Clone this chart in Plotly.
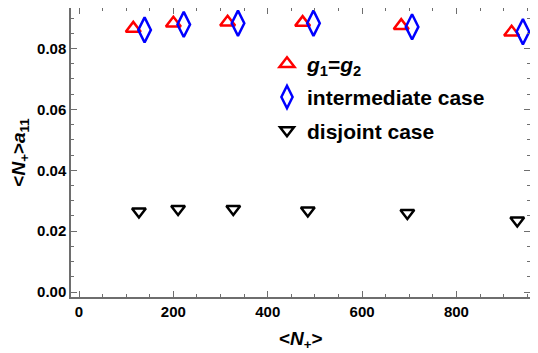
import plotly.graph_objects as go

# Data
x_equal = [115, 200, 315, 474, 683, 917]
y_equal = [0.0866, 0.0883, 0.0886, 0.0885, 0.0875, 0.0853]

x_inter = [139, 222, 337, 497, 706, 941]
y_inter = [0.0861, 0.0879, 0.0883, 0.0883, 0.0871, 0.0855]

x_disj = [127, 210, 327, 485, 696, 929]
y_disj = [0.0265, 0.0273, 0.0273, 0.0268, 0.0260, 0.0235]

x_ticks = [0, 200, 400, 600, 800]
y_ticks = [0.00, 0.02, 0.04, 0.06, 0.08]
y_tick_labels = ["0.00", "0.02", "0.04", "0.06", "0.08"]

FONT = "Liberation Sans"

fig = go.Figure()
fig.add_trace(go.Scatter(
    x=x_equal, y=y_equal, mode="markers", name="<b><i>g</i><sub>1</sub>=<i>g</i><sub>2</sub></b>",
    marker=dict(symbol="triangle-up-open", size=13, color="#ff0000", line=dict(width=2.5, color="#ff0000")),
    legendgroup="a"))
fig.add_trace(go.Scatter(
    x=x_inter, y=y_inter, mode="markers", name="<b>intermediate case</b>",
    marker=dict(symbol="diamond-tall-open", size=18, color="#0000ff", line=dict(width=2.5, color="#0000ff")),
    legendgroup="b"))
fig.add_trace(go.Scatter(
    x=x_disj, y=y_disj, mode="markers", name="<b>disjoint case</b>",
    marker=dict(symbol="triangle-down-open", size=12, color="#000000", line=dict(width=2.5, color="#000000")),
    legendgroup="c"))

axis_common = dict(
    showline=True, linecolor="#6e6e6e", linewidth=1.5, mirror="ticks",
    ticks="inside", ticklen=6, tickwidth=1, tickcolor="#6e6e6e",
    showgrid=False, zeroline=False, automargin=False,
    tickfont=dict(family=FONT, size=15, color="black", weight="bold"),
)

fig.update_xaxes(
    range=[-17, 956], tickvals=x_ticks,
    minor=dict(ticks="inside", ticklen=3, dtick=50, tickcolor="#6e6e6e", showgrid=False),
    **axis_common)
fig.update_yaxes(
    range=[-0.0016, 0.0933], tickvals=y_ticks, ticktext=y_tick_labels,
    minor=dict(ticks="inside", ticklen=3, dtick=0.005, tickcolor="#6e6e6e", showgrid=False),
    title=dict(text="<b>&lt;<i>N</i><sub>+</sub>&gt;<i>a</i><sub>11</sub></b>", font=dict(family=FONT, size=19, color="black"), standoff=8),
    **axis_common)

# x-axis title placed in paper coordinates below the tick labels
fig.add_annotation(
    text="<b>&lt;<i>N</i><sub>+</sub>&gt;</b>", xref="paper", yref="paper",
    x=0.5, y=-0.149, xanchor="center", yanchor="middle", showarrow=False,
    font=dict(family=FONT, size=19, color="black"))

# the page adds an 8px body margin and clips at the body width; size the figure to fit
fig.update_layout(
    width=522, height=345,
    margin=dict(l=63, r=0, t=0, b=56, pad=0),
    paper_bgcolor="white", plot_bgcolor="white",
    showlegend=True,
    legend=dict(x=0.427, y=0.877, xanchor="left", yanchor="top",
                font=dict(family=FONT, size=21, color="black"),
                bgcolor="rgba(0,0,0,0)", tracegroupgap=3),
)

fig.write_html("out.html")
